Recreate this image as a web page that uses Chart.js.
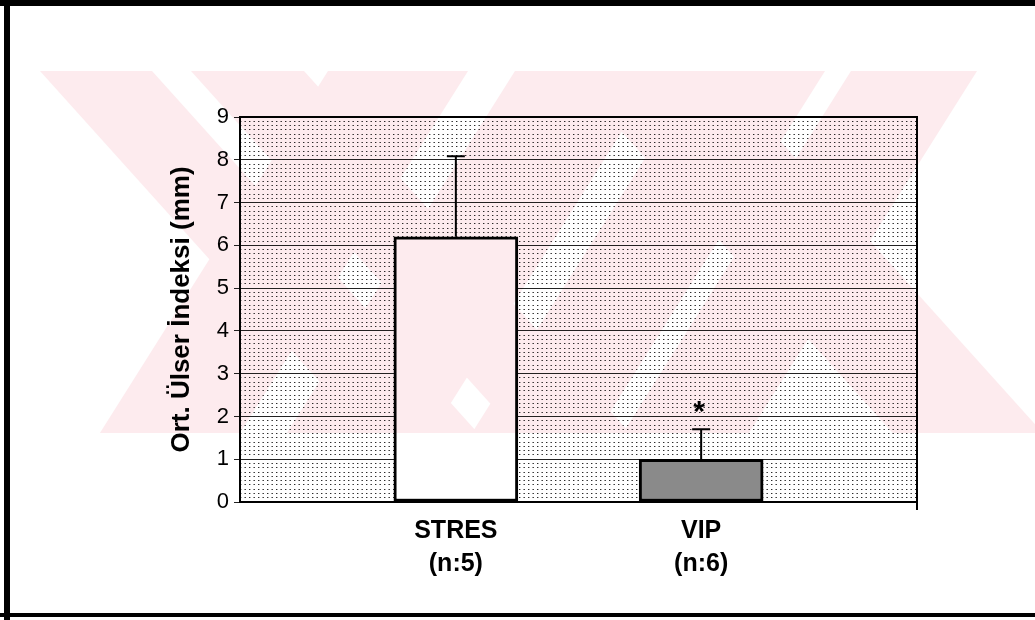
<!DOCTYPE html>
<html>
<head>
<meta charset="utf-8">
<script src="https://cdn.jsdelivr.net/npm/chart.js@4.4.1/dist/chart.umd.min.js"></script>
<style>
  html, body { margin: 0; padding: 0; background: #fff; }
  #wrap { width: 1035px; height: 620px; }
</style>
</head>
<body>
<div id="wrap"><canvas id="chart" width="1035" height="620"></canvas></div>
<script>
// ---- data ----
const groups = ['STRES', 'VIP'];
const groupN = ['(n:5)', '(n:6)'];
const groupPos = [1, 2];
const meanValues = [6.2, 1.0];
const errValues = [1.88, 0.7];
const significance = ['', '*'];
const yTicks = [0, 1, 2, 3, 4, 5, 6, 7, 8, 9];

const barFills = ['#ffffff', '#8a8a8a'];

// ---- decorations: scan frame + pale watermark ----
const framePlugin = {
    id: 'frame',
    beforeDraw(chart) {
        const ctx = chart.ctx;
        ctx.save();
        ctx.fillStyle = '#fff';
        ctx.fillRect(0, 0, chart.width, chart.height);
        ctx.fillStyle = '#000';
        ctx.fillRect(0, 0, chart.width, 6);
        ctx.fillRect(4, 0, 6, chart.height);
        ctx.fillRect(0, 613, chart.width, 4);
        ctx.restore();
    }
};

const errorBarPlugin = {
    id: 'errorBars',
    afterDatasetsDraw(chart) {
        const ctx = chart.ctx;
        const x = chart.scales.x;
        const y = chart.scales.y;
        ctx.save();
        ctx.strokeStyle = '#000';
        ctx.lineWidth = 2;
        meanValues.forEach((v, i) => {
            const px = x.getPixelForValue(groupPos[i]);
            const top = y.getPixelForValue(v + errValues[i]);
            const base = y.getPixelForValue(v);
            ctx.beginPath();
            ctx.moveTo(px, base);
            ctx.lineTo(px, top);
            ctx.moveTo(px - 9, top);
            ctx.lineTo(px + 9, top);
            ctx.stroke();
            if (significance[i]) {
                ctx.fillStyle = '#000';
                ctx.font = 'bold 30px "Liberation Sans", Arial, sans-serif';
                ctx.textAlign = 'center';
                ctx.textBaseline = 'middle';
                ctx.fillText(significance[i], px - 2, top - 17);
            }
        });
        // frame of the plot area
        const a = chart.chartArea;
        ctx.lineWidth = 2;
        ctx.strokeRect(a.left, a.top, a.right - a.left, a.bottom - a.top);
        ctx.beginPath();
        ctx.moveTo(a.right, a.bottom);
        ctx.lineTo(a.right, a.bottom + 8);
        ctx.stroke();
        ctx.restore();
    }
};

const watermarkPlugin = {
    id: 'watermark',
    afterDraw(chart) {
        const ctx = chart.ctx;
        const top = 71, bottom = 433, h = bottom - top;
        ctx.save();
        ctx.beginPath();
        ctx.rect(40, top, 1035 - 40, h);
        ctx.clip();
        ctx.globalCompositeOperation = 'multiply';
        ctx.fillStyle = '#fdebee';
        ctx.beginPath();
        const band = (x0, w, s) => {
            ctx.moveTo(x0, top);
            ctx.lineTo(x0 + w, top);
            ctx.lineTo(x0 + w + s * h, bottom);
            ctx.lineTo(x0 + s * h, bottom);
            ctx.closePath();
        };
        band(40, 112, 0.9);
        band(191, 113, 0.9);
        band(328, 140, -0.63);
        band(515, 145, -0.63);
        band(700, 125, -0.63);
        band(851, 126, -0.63);
        band(567, 150, 0.9);
        ctx.fill('nonzero');
        ctx.restore();
    }
};

new Chart(document.getElementById('chart'), {
    type: 'bar',
    data: {
        datasets: [{
            data: meanValues.map((v, i) => ({ x: groupPos[i], y: v })),
            backgroundColor: barFills,
            borderColor: '#000',
            borderWidth: 3,
            borderSkipped: false,
            barThickness: 124
        }]
    },
    options: {
        responsive: false,
        animation: false,
        layout: { padding: { left: 0, right: 118, top: 117, bottom: 0 } },
        plugins: { legend: { display: false }, tooltip: { enabled: false } },
        scales: {
            x: {
                type: 'linear',
                offset: false,
                min: 0.12,
                max: 2.88,
                grid: { display: false },
                border: { display: true, color: '#000', width: 2 },
                afterFit: s => { s.height = 118; },
                afterBuildTicks: s => { s.ticks = groupPos.map(v => ({ value: v })); },
                ticks: {
                    padding: 5,
                    color: '#000',
                    font: { family: '"Liberation Sans", Arial, sans-serif', size: 25, weight: 'bold', lineHeight: 1.3 },
                    callback: v => {
                        const i = groupPos.indexOf(v);
                        return i < 0 ? '' : [groups[i], groupN[i]];
                    }
                }
            },
            yMinor: {
                position: 'left',
                min: 0,
                max: 9,
                afterFit: s => { s.width = 0; },
                ticks: { display: false, stepSize: 0.1, maxTicksLimit: 200 },
                grid: { color: '#2a2a2a', lineWidth: 1, drawTicks: false },
                border: { display: false, dash: [1.4, 3.1] }
            },
            y: {
                position: 'left',
                min: 0,
                max: 9,
                afterFit: s => { s.width = 240; },
                afterBuildTicks: s => { s.ticks = yTicks.map(v => ({ value: v })); },
                grid: { color: '#222', lineWidth: 1, tickLength: 6 },
                border: { display: true, color: '#000', width: 2 },
                ticks: {
                    padding: 5,
                    color: '#000',
                    font: { family: '"Liberation Sans", Arial, sans-serif', size: 22 }
                },
                title: {
                    display: true,
                    text: 'Ort. Ülser İndeksi (mm)',
                    color: '#000',
                    font: { family: '"Liberation Sans", Arial, sans-serif', size: 26, weight: 'bold' },
                    padding: { top: 166 }
                }
            }
        }
    },
    plugins: [framePlugin, errorBarPlugin, watermarkPlugin]
});
</script>
</body>
</html>
